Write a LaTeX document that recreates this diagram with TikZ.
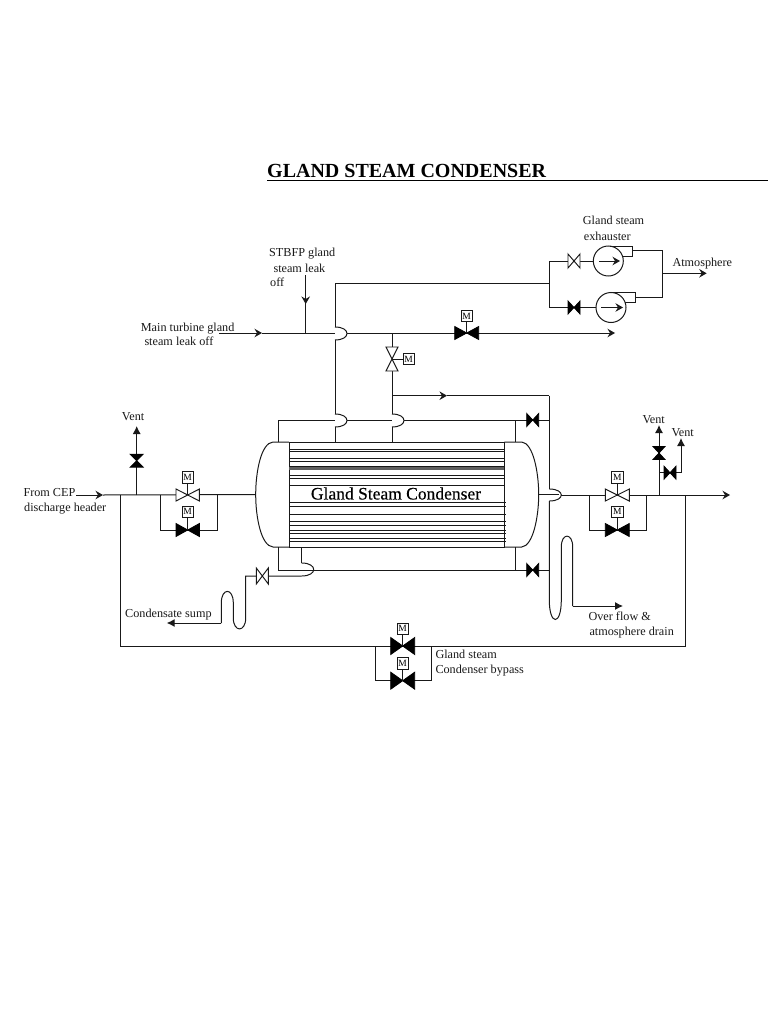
\documentclass[tikz,border=0pt]{standalone}
\usepackage{fontspec}
\setmainfont{Liberation Serif}
\newfontfamily\heavyserif{Liberation Serif}[FakeBold=0.35]
\usetikzlibrary{calc,arrows.meta}
\definecolor{ink}{gray}{0.1}
\tikzset{
  pipe/.style={draw=ink,line width=1pt},
  thinp/.style={draw=ink,line width=0.9pt},
  open/.style={draw=ink,line width=0.95pt,fill=white},
  shut/.style={draw=black,line width=0.8pt,fill=black},
  mbox/.style={draw=ink,line width=0.9pt,fill=white,minimum size=11.5pt,inner sep=0pt,font=\fontsize{9.5}{10}\selectfont},
  lab/.style={anchor=base west,inner sep=0pt,text=ink,font=\fontsize{12.2}{14}\selectfont},
  flow/.style={-{Stealth[length=7.5pt,width=8.5pt,inset=2.5pt]}},
  solid tip/.style={-{Latex[length=8pt,width=8pt]}},
}
% name, position, half length, half height, style
\newcommand{\ValveH}[5]{\coordinate (#1) at #2;
  \draw[#5] ($(#1)+(-#3,-#4)$) -- ($(#1)+(#3,#4)$) -- ($(#1)+(#3,-#4)$) -- ($(#1)+(-#3,#4)$) -- cycle;}
\newcommand{\ValveV}[5]{\coordinate (#1) at #2;
  \draw[#5] ($(#1)+(-#4,-#3)$) -- ($(#1)+(#4,#3)$) -- ($(#1)+(-#4,#3)$) -- ($(#1)+(#4,-#3)$) -- cycle;}
% name, position, valve name
\newcommand{\Motor}[3]{\node[mbox] (#1) at #2 {M}; \draw[thinp] (#1) -- (#3);}
% jump to the right over a horizontal line; from a to b, bulging by 12
\newcommand{\Bump}[2]{\draw[pipe] (#1) .. controls ($(#1)+(16,0)$) and ($(#2)+(16,0)$) .. (#2);}
\begin{document}
\begin{tikzpicture}[x=1pt,y=-1pt]
\useasboundingbox (0,0) rectangle (768,1024);

% ---- title
\node[anchor=base west,inner sep=0pt,text=black,font=\fontsize{20}{22}\selectfont\bfseries] (title) at (267,177.5) {GLAND STEAM CONDENSER};
\coordinate (rs) at (267,180.5); \coordinate (re) at (768,180.5);
\draw[black,line width=1pt] (rs) -- (re);

% ---- condenser shell
\coordinate (LT) at (273,442); \coordinate (LB) at (273,547);
\coordinate (RT) at (521.7,442); \coordinate (RB) at (521.7,547);
\coordinate (LW) at (255.7,494.5); \coordinate (RE) at (538.7,494.5);
\coordinate (TL) at (289,442); \coordinate (BL) at (289,547);
\coordinate (TR) at (504.3,442); \coordinate (BR) at (504.3,547);
\draw[pipe] (TL) -- (LT) .. controls (261,443) and (255.7,472) .. (LW) .. controls (255.7,517) and (261,546) .. (LB) -- (BL);
\draw[pipe] (TR) -- (RT) .. controls (533,443) and (538.7,472) .. (RE) .. controls (538.7,517) and (533,546) .. (RB) -- (BR);
\draw[pipe] (TL) rectangle (BR);
\foreach \y in {449,451.5,458,461.7,466,475,478.3,485.7}
  \draw[thinp] (289,\y) -- (504.3,\y);
\draw[draw=ink!70,line width=2.4pt] (289,468.5) -- (504.3,468.5);
\foreach \y in {502.7,506,514.3,521.7,525,530,533.3,538.3,541.7}
  \draw[thinp] (289,\y) -- (505.5,\y);
\node[inner sep=0pt,text=black,font=\fontsize{17.5}{20}\selectfont\heavyserif] (gsc) at (396,493.5) {Gland Steam Condenser};

% ---- main gland steam header
\coordinate (h0) at (219,333); \coordinate (hm) at (262,333); \coordinate (hs) at (305.7,333);
\coordinate (hj) at (335,333); \coordinate (hk) at (347,333); \coordinate (hv) at (392,333);
\coordinate (hend) at (615,333);
\coordinate (st) at (305.7,275); \coordinate (stm) at (305.7,304);
\draw[pipe,flow] (h0) -- (hm); \draw[pipe] (hm) -- (hj);
\draw[pipe] (st) -- (hs); \draw[pipe,flow] (st) -- (stm);
\draw[pipe,flow] (hk) -- (hend);
\ValveH{vmain}{(466.7,333)}{12}{6.5}{shut}
\Motor{mmain}{(466.7,316)}{vmain}

% ---- exhauster suction pipe
\coordinate (p1t) at (335,283.5); \coordinate (p1a) at (335,327); \coordinate (p1b) at (335,340);
\coordinate (p1c) at (335,414); \coordinate (p1d) at (335,427); \coordinate (p1e) at (335,442);
\coordinate (sp) at (549.3,283.5);
\draw[pipe] (p1a) -- (p1t) -- (sp);
\Bump{p1a}{p1b}
\draw[pipe] (p1b) -- (p1c); \Bump{p1c}{p1d} \draw[pipe] (p1d) -- (p1e);

% ---- second vertical with motor valve
\coordinate (p2c) at (392,414); \coordinate (p2d) at (392,427); \coordinate (p2e) at (392,442);
\draw[pipe] (hv) -- (p2c); \Bump{p2c}{p2d} \draw[pipe] (p2d) -- (p2e);
\ValveV{v2}{(392,359)}{12}{6}{open}
\Motor{m2}{(408.7,359)}{v2}
\coordinate (b1) at (392,395.7); \coordinate (b1m) at (447,395.7); \coordinate (b2) at (549.3,395.7);
\draw[pipe,flow] (b1) -- (b1m); \draw[pipe] (b1m) -- (b2);

% ---- upper and lower vent lines of shell
\coordinate (ul) at (278,420); \coordinate (ua) at (335,420); \coordinate (ub) at (347,420);
\coordinate (uc) at (392,420); \coordinate (ud) at (404,420); \coordinate (ur) at (549.3,420);
\coordinate (ut) at (278,442); \coordinate (ux) at (515,420); \coordinate (uy) at (515,442);
\draw[pipe] (ut) -- (ul) -- (ua); \draw[pipe] (ub) -- (uc); \draw[pipe] (ud) -- (ur);
\draw[pipe] (ux) -- (uy);
\ValveH{vu}{(532.7,420)}{6}{6.5}{shut}
\coordinate (ll) at (278,570); \coordinate (lt) at (278,547); \coordinate (lr) at (549.3,570);
\coordinate (lx) at (515,570); \coordinate (ly) at (515,547);
\draw[pipe] (lt) -- (ll) -- (lr); \draw[pipe] (lx) -- (ly);
\ValveH{vl}{(532.7,570)}{6}{6.5}{shut}

% ---- drain to condensate sump
\coordinate (d0) at (301.7,547); \coordinate (d1) at (301.7,563); \coordinate (d2) at (301.7,576);
\coordinate (d3) at (245.7,576); \coordinate (d4) at (245.7,618); \coordinate (d5) at (233.3,618);
\coordinate (d6) at (233.3,603); \coordinate (d7) at (221.3,603); \coordinate (d8) at (221.3,623);
\coordinate (d9) at (166.7,623);
\draw[pipe] (d0) -- (d1); \Bump{d1}{d2}
\draw[pipe] (d2) -- (d3) -- (d4) .. controls (245.7,632.5) and (233.3,632.5) .. (d5) -- (d6)
  .. controls (233.3,587.5) and (221.3,587.5) .. (d7) -- (d8);
\draw[pipe,solid tip] (d8) -- (d9);
\ValveH{vd}{(262.3,576)}{6}{8}{open}

% ---- right hand vertical and overflow loop
\coordinate (v0) at (549.3,395.7); \coordinate (o0) at (549.3,489); \coordinate (o1) at (549.3,501);
\coordinate (v1) at (549.3,600);
\coordinate (v2a) at (561.3,600); \coordinate (v2b) at (561.3,547); \coordinate (v3) at (572.7,547);
\coordinate (v4) at (572.7,606); \coordinate (v5) at (623,606);
\draw[pipe] (v0) -- (o0); \Bump{o0}{o1}
\draw[pipe] (o1) -- (v1) .. controls (549.3,626) and (561.3,626) .. (v2a) -- (v2b)
  .. controls (561.3,532.5) and (572.7,532.5) .. (v3) -- (v4);
\draw[pipe,solid tip] (v4) -- (v5);

% ---- CEP condensate line, inlet side
\coordinate (c0) at (76,495); \coordinate (cm) at (103,495); \coordinate (cj) at (120.7,495);
\coordinate (cv) at (136.7,495); \coordinate (b1l) at (160.7,495); \coordinate (b1r) at (217.3,495);
\draw[pipe,flow] (c0) -- (cm); \draw[pipe] (cm) -- (LW);
\coordinate (vt) at (136.7,426);
\draw[pipe,solid tip] (cv) -- (vt);
\ValveV{vv1}{(136.7,460.7)}{6.5}{6.5}{shut}
\coordinate (b1a) at (160.7,530); \coordinate (b1b) at (217.3,530);
\draw[pipe] (b1l) -- (b1a) -- (b1b) -- (b1r);
\ValveH{vin}{(187.7,495)}{11.7}{6}{open}
\Motor{min}{(187.7,477.3)}{vin}
\ValveH{vinb}{(187.7,530)}{11.7}{6.5}{shut}
\Motor{minb}{(187.7,511.7)}{vinb}

% ---- outlet side
\coordinate (o2) at (561.3,495);
\coordinate (oend) at (730,495); \coordinate (ol) at (589.3,495); \coordinate (or) at (646.7,495);
\coordinate (oE) at (559,494.5);
\draw[pipe] (RE) -- (oE);
\draw[pipe,flow] (o2) -- (oend);
\coordinate (b2a) at (589.3,530); \coordinate (b2b) at (646.7,530);
\draw[pipe] (ol) -- (b2a) -- (b2b) -- (or);
\ValveH{vout}{(617.3,495)}{12}{6}{open}
\Motor{mout}{(617.3,477.3)}{vout}
\ValveH{voutb}{(617.3,530)}{12}{6.5}{shut}
\Motor{moutb}{(617.3,511.7)}{voutb}
\coordinate (va) at (659,495); \coordinate (vb) at (659,425); \coordinate (vc) at (659,472.7);
\coordinate (vd1) at (681,472.7); \coordinate (vd2) at (681,438);
\draw[pipe,solid tip] (va) -- (vb);
\draw[pipe,solid tip] (vc) -- (vd1) -- (vd2);
\ValveV{vv2}{(659,453)}{6.5}{6}{shut}
\ValveH{vv3}{(670,472.7)}{6}{6.5}{shut}

% ---- condenser bypass
\coordinate (y0) at (120.7,646); \coordinate (y1) at (685,646); \coordinate (y2) at (685,495);
\draw[pipe] (cj) -- (y0) -- (y1) -- (y2);
\coordinate (y3) at (375.3,646); \coordinate (y4) at (375.3,680.7);
\coordinate (y5) at (431.7,680.7); \coordinate (y6) at (431.7,646);
\draw[pipe] (y3) -- (y4) -- (y5) -- (y6);
\ValveH{vby}{(402.7,646)}{12}{8.5}{shut}
\Motor{mby}{(402.7,628.7)}{vby}
\ValveH{vbyb}{(402.7,680.7)}{12}{8.5}{shut}
\Motor{mbyb}{(402.7,663.3)}{vbyb}

% ---- exhausters
\node[circle,pipe,minimum size=30pt,inner sep=0pt] (e1) at (608.3,261) {};
\node[circle,pipe,minimum size=30pt,inner sep=0pt] (e2) at (611,307.5) {};
\coordinate (s1) at (549.3,261); \coordinate (s2) at (549.3,307.5);
\draw[pipe] (s1) -- (s2);
\draw[pipe] (s1) -- (e1.west); \draw[pipe] (s2) -- (e2.west);
\ValveH{ve1}{(574,261)}{6}{7}{open}
\ValveH{ve2}{(574,307.5)}{6}{6.5}{shut}
\coordinate (a1) at (599,261); \coordinate (a2) at (620,261);
\coordinate (a3) at (601,307.5); \coordinate (a4) at (623,307.5);
\draw[pipe,flow] (a1) -- (a2); \draw[pipe,flow] (a3) -- (a4);
\coordinate (r1) at (610,246); \coordinate (r2) at (632,246); \coordinate (r3) at (632,256); \coordinate (r4) at (622,256);
\draw[pipe] (r1) -- (r2) -- (r3) -- (r4);
\coordinate (r5) at (613,292.7); \coordinate (r6) at (635,292.7); \coordinate (r7) at (635,302.3); \coordinate (r8) at (625,302.3);
\draw[pipe] (r5) -- (r6) -- (r7) -- (r8);
\coordinate (q1) at (632,250.7); \coordinate (q2) at (662,250.7); \coordinate (q3) at (662,297.3); \coordinate (q4) at (635,297.3);
\draw[pipe] (q1) -- (q2) -- (q3) -- (q4);
\coordinate (at0) at (662,273.3); \coordinate (at1) at (706.7,273.3);
\draw[pipe,flow] (at0) -- (at1);

% ---- labels
\node[lab] (l1) at (269,256.7) {STBFP gland};
\node[lab] (l2) at (273.3,272) {steam leak};
\node[lab] (l3) at (270,286.7) {off};
\node[lab] (l4) at (140.7,331) {Main turbine gland};
\node[lab] (l5) at (144.3,345) {steam leak off};
\node[lab] (l6) at (582.7,225) {Gland steam};
\node[lab] (l7) at (583.7,240.7) {exhauster};
\node[lab] (l8) at (672.3,266.7) {Atmosphere};
\node[lab] (l9) at (121.7,420.7) {Vent};
\node[lab] (l10) at (23.3,496.7) {From CEP};
\node[lab] (l11) at (24,511) {discharge header};
\node[lab] (l12) at (125,617.3) {Condensate sump};
\node[lab] (l13) at (588.3,620.7) {Over flow \&};
\node[lab] (l14) at (589.3,635.3) {atmosphere drain};
\node[lab] (l15) at (435.3,658.3) {Gland steam};
\node[lab] (l16) at (435.3,673.3) {Condenser bypass};
\node[lab] (l17) at (642.3,423.3) {Vent};
\node[lab] (l18) at (671.3,436.7) {Vent};
\end{tikzpicture}
\end{document}
